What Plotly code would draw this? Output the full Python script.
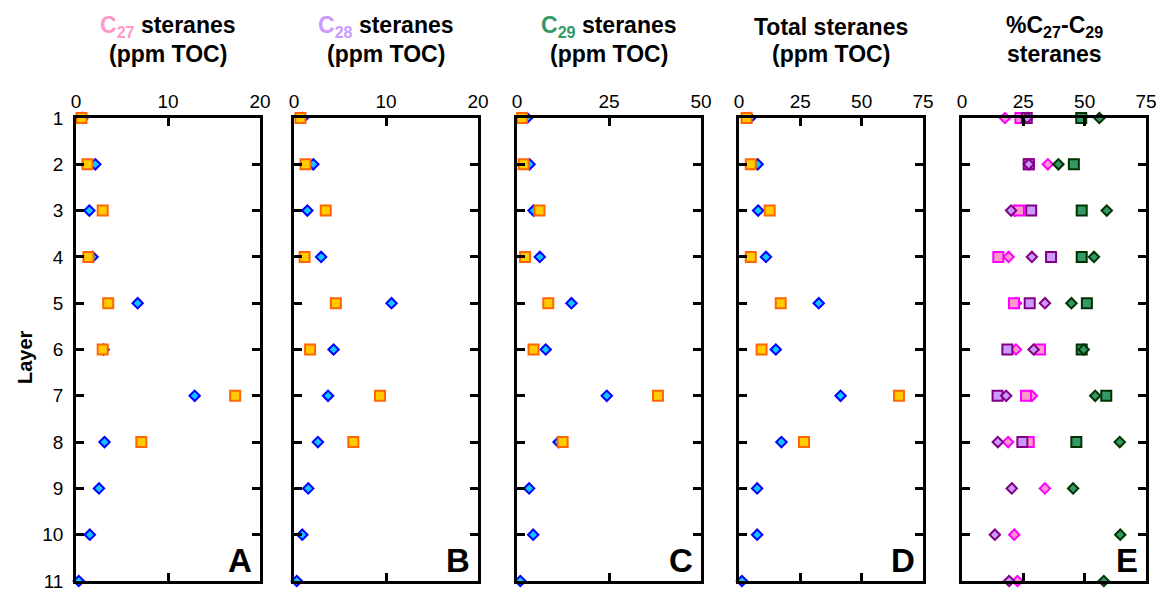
import plotly.graph_objects as go

W, H = 1160, 589

# Layers (depth order, top to bottom)
layers = list(range(1, 12))
layers_sq = list(range(1, 9))
layer_labels = [str(v) for v in layers]

# Absolute concentrations (ppm TOC): diamonds = series 1 (layers 1-11), squares = series 2 (layers 1-8)
c27_d = [0.7, 2.1, 1.45, 1.8, 6.7, 3.0, 12.9, 3.1, 2.5, 1.5, 0.3]
c27_s = [0.6, 1.25, 2.9, 1.35, 3.5, 2.9, 17.3, 7.1]
c28_d = [0.95, 2.1, 1.45, 2.95, 10.6, 4.3, 3.7, 2.6, 1.55, 0.9, 0.3]
c28_s = [0.7, 1.25, 3.45, 1.15, 4.55, 1.75, 9.35, 6.45]
c29_d = [2.7, 3.4, 4.5, 6.2, 14.8, 7.8, 24.4, 11.3, 3.3, 4.4, 0.9]
c29_s = [1.4, 1.8, 6.1, 2.2, 8.5, 4.5, 38.3, 12.4]
tot_d = [4.5, 7.6, 7.8, 11.0, 32.5, 15.0, 41.4, 17.3, 7.4, 7.4, 1.2]
tot_s = [3.1, 4.8, 12.5, 4.8, 17.0, 9.2, 65.2, 26.5]

# Relative distribution (%C27, %C28, %C29)
pct27_d = [17.5, 35.0, 21.5, 19.0, 22.0, 22.0, 28.5, 18.8, 33.8, 21.3, 22.6]
pct28_d = [26.5, 27.2, 20.0, 28.5, 33.8, 29.2, 18.0, 14.6, 20.3, 13.4, 19.2]
pct29_d = [56.0, 39.3, 59.0, 53.8, 44.6, 49.6, 54.3, 64.3, 45.3, 64.5, 57.8]
pct27_s = [23.8, 27.3, 23.2, 14.8, 21.2, 31.8, 26.1, 27.2]
pct28_s = [26.4, 27.2, 28.2, 36.3, 27.6, 18.5, 14.5, 24.6]
pct29_s = [48.6, 45.6, 48.8, 48.8, 50.9, 48.8, 58.8, 46.6]

# Panel axis ranges / ticks
range_a, ticks_a = [0, 20], [0, 10, 20]
range_b, ticks_b = [0, 20], [0, 10, 20]
range_c, ticks_c = [0, 50], [0, 25, 50]
range_d, ticks_d = [0, 75], [0, 25, 50, 75]
range_e, ticks_e = [0, 75], [0, 25, 50, 75]

FONT = "Arial, 'Liberation Sans', sans-serif"

# pixel extents of each panel
panel_px = [(76, 260), (294, 478), (517, 701), (739, 923), (962, 1146)]
y_top_px, y_bot_px = 118, 581

fig = go.Figure()


def add_marks(ax, x, y, symbol, fill, edge, size):
    fig.add_trace(go.Scatter(
        x=x, y=y, mode="markers", cliponaxis=False, showlegend=False,
        xaxis="x" + ax, yaxis="y" + ax,
        marker=dict(symbol=symbol, size=size, color=fill,
                    line=dict(color=edge, width=2)),
    ))


DIA, SQ = 8, 10
BLUE_F, BLUE_E = "#11c6ff", "#0000ff"
ORG_F, ORG_E = "#ffcc00", "#ff6600"

concs = [(c27_d, c27_s), (c28_d, c28_s), (c29_d, c29_s), (tot_d, tot_s)]
for i, (dv, sv) in enumerate(concs):
    ax = "" if i == 0 else str(i + 1)
    add_marks(ax, dv, layers, "diamond", BLUE_F, BLUE_E, DIA)
    add_marks(ax, sv, layers_sq, "square", ORG_F, ORG_E, SQ)

PINK_F, PINK_E = "#ff99cc", "#ff00ff"
PURP_F, PURP_E = "#cc99ff", "#800080"
GRN_F, GRN_E = "#339966", "#003300"
add_marks("5", pct27_d, layers, "diamond", PINK_F, PINK_E, DIA)
add_marks("5", pct27_s, layers_sq, "square", PINK_F, PINK_E, SQ)
add_marks("5", pct28_s, layers_sq, "square", PURP_F, PURP_E, SQ)
add_marks("5", pct28_d, layers, "diamond", PURP_F, PURP_E, DIA)
add_marks("5", pct29_s, layers_sq, "square", GRN_F, GRN_E, SQ)
add_marks("5", pct29_d, layers, "diamond", GRN_F, GRN_E, DIA)

ranges = [(range_a, ticks_a), (range_b, ticks_b), (range_c, ticks_c),
          (range_d, ticks_d), (range_e, ticks_e)]
y_dom = [1 - y_bot_px / H, 1 - y_top_px / H]

layout = {}
for i, ((rng, tv), (x0, x1)) in enumerate(zip(ranges, panel_px)):
    n = "" if i == 0 else str(i + 1)
    common = dict(showline=True, linecolor="black", linewidth=2.5, mirror="ticks",
                  ticks="inside", ticklen=8, tickwidth=2.5, tickcolor="black",
                  showgrid=False, zeroline=False, automargin=False,
                  ticklabeloverflow="allow",
                  tickfont=dict(family=FONT, size=19, color="black"))
    layout["xaxis" + n] = dict(domain=[x0 / W, x1 / W], range=rng, tickvals=tv,
                               side="top", anchor="y" + n, ticklabelstandoff=0,
                               **common)
    layout["yaxis" + n] = dict(domain=y_dom, range=[11, 1], tickvals=layers,
                               ticktext=layer_labels, anchor="x" + n,
                               showticklabels=(i == 0), ticklabelstandoff=6,
                               **common)

titles = [
    ("<b><span style='color:#ff99cc'>C<sub>27</sub></span> steranes</b>", "<b>(ppm TOC)</b>"),
    ("<b><span style='color:#cc99ff'>C<sub>28</sub></span> steranes</b>", "<b>(ppm TOC)</b>"),
    ("<b><span style='color:#339966'>C<sub>29</sub></span> steranes</b>", "<b>(ppm TOC)</b>"),
    ("<b>Total steranes</b>", "<b>(ppm TOC)</b>"),
    ("<b>%C<sub>27</sub>-C<sub>29</sub></b>", "<b>steranes</b>"),
]
annotations = []
for (l1, l2), (x0, x1) in zip(titles, panel_px):
    xc = (x0 + x1) / 2 / W
    for txt, ypx in ((l1, 27), (l2, 54)):
        annotations.append(dict(text=txt, x=xc, y=1 - ypx / H, xref="paper", yref="paper",
                                xanchor="center", yanchor="middle", showarrow=False,
                                font=dict(family=FONT, size=23, color="black")))

for i, letter in enumerate("ABCDE"):
    n = "" if i == 0 else str(i + 1)
    annotations.append(dict(text="<b>" + letter + "</b>", x=1, y=0,
                            xref="x" + n + " domain", yref="y" + n + " domain",
                            xanchor="right", yanchor="bottom", xshift=-6, yshift=0,
                            showarrow=False,
                            font=dict(family=FONT, size=33, color="black")))

annotations.append(dict(text="<b>Layer</b>", x=25 / W, y=1 - 357 / H, xref="paper", yref="paper",
                        xanchor="center", yanchor="middle", textangle=-90, showarrow=False,
                        font=dict(family=FONT, size=20, color="black")))

fig.update_layout(width=W, height=H, margin=dict(l=0, r=0, t=0, b=0, autoexpand=False),
                  paper_bgcolor="white", plot_bgcolor="white",
                  annotations=annotations, **layout)

fig.write_html("out.html")
